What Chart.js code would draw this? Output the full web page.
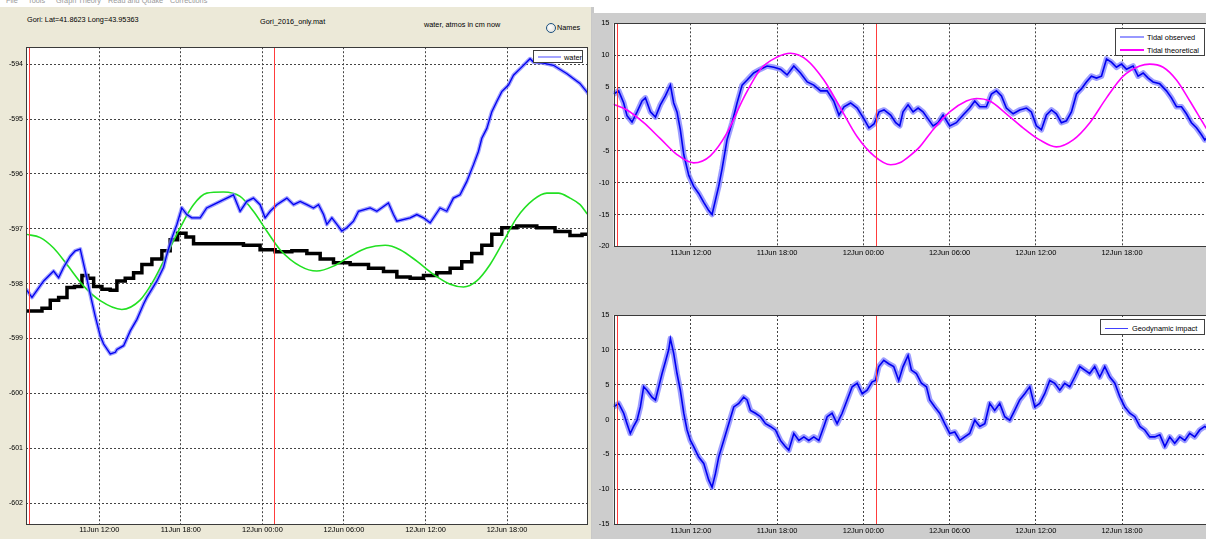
<!DOCTYPE html>
<html>
<head>
<meta charset="utf-8">
<title>Gori water level and tides</title>
<script src="https://cdn.jsdelivr.net/npm/chart.js@4.4.1/dist/chart.umd.min.js"></script>
<style>
  html, body { margin: 0; padding: 0; width: 1206px; height: 539px; overflow: hidden; background: #fff;
    font-family: 'Liberation Sans', Arial, sans-serif; }
  .abs { position: absolute; }
  #menuBar { left: 0; top: 0; width: 592px; height: 7px; background: #fff; overflow: hidden; }
  #menuBar span { position: absolute; top: -4px; font-size: 7.3px; color: #999; white-space: nowrap; }
  #leftPane { left: 0; top: 7px; width: 592px; height: 532px; background: #ECE9D8; }
  #scrollStrip { left: 591px; top: 7px; width: 3px; height: 532px; background: #C8C8C8; }
  #rightPane { left: 592px; top: 13px; width: 614px; height: 526px; background: #CDCDCD; }
  .hdr { position: absolute; font-size: 7.3px; color: #000; white-space: nowrap; line-height: 1; }
  .radio { position: absolute; width: 8px; height: 8px; border-radius: 50%; border: 1px solid #1c5180;
    background: radial-gradient(circle at 40% 40%, #fff 0, #e6e6e0 70%, #cfcfc8 100%); }
  canvas { position: absolute; }
  .legend { position: absolute; background: #fff; border: 1px solid #404040; box-sizing: border-box; }
  .legend .swatch { position: absolute; height: 0; }
  .legend .txt { position: absolute; font-size: 7.4px; color: #000; white-space: nowrap; line-height: 1; }
</style>
</head>
<body>
<div id="menuBar" class="abs">
  <span style="left:6px">File</span><span style="left:28px">Tools</span><span style="left:56px">Graph Theory</span>
  <span style="left:108px">Read and Quake</span><span style="left:170px">Corrections</span>
</div>
<div id="leftPane" class="abs"></div>
<div id="scrollStrip" class="abs"></div>
<div id="rightPane" class="abs"></div>

<div class="hdr" style="left:27px;top:16px">Gori: Lat=41.8623 Long=43.95363</div>
<div class="hdr" style="left:260px;top:17.5px">Gori_2016_only.mat</div>
<div class="hdr" style="left:424px;top:21px">water, atmos in cm now</div>
<div class="radio" style="left:546px;top:22.5px"></div>
<div class="hdr" style="left:557px;top:23.5px">Names</div>

<canvas id="waterChart" width="592" height="499" style="left:0;top:40px"></canvas>
<canvas id="tidalChart" width="620" height="250" style="left:592px;top:13px"></canvas>
<canvas id="geoChart" width="620" height="239" style="left:592px;top:300px"></canvas>

<div class="legend" style="left:533px;top:50px;width:50px;height:13px">
  <div class="swatch" style="left:4px;top:5px;width:23px;border-top:2px solid #a4a4ff"></div>
  <div class="txt" style="left:30px;top:3px">water</div>
</div>
<div class="legend" style="left:1115px;top:28px;width:90px;height:28px">
  <div class="swatch" style="left:4px;top:7px;width:24px;border-top:2px solid #9898ff"></div>
  <div class="txt" style="left:31px;top:4.5px">Tidal observed</div>
  <div class="swatch" style="left:4px;top:20px;width:24px;border-top:2px solid #ff00ff"></div>
  <div class="txt" style="left:31px;top:17.5px">Tidal theoretical</div>
</div>
<div class="legend" style="left:1100px;top:319px;width:105px;height:16px">
  <div class="swatch" style="left:4px;top:7.5px;width:23px;border-top:1px solid #4040ff"></div>
  <div class="txt" style="left:31px;top:4.5px">Geodynamic impact</div>
</div>

<script>
// Time axis: hours counted from 11 Jun 00:00.
const timeTickHours  = [12, 18, 24, 30, 36, 42];
const timeTickLabels = ['11Jun 12:00', '11Jun 18:00', '12Jun 00:00', '12Jun 06:00', '12Jun 12:00', '12Jun 18:00'];
const markerHours = [6.86, 24.87];           // red reference lines
const timeMin = 6.61, timeMax = 47.9;

// ---- water level panel (cm) ----
const waterTicks = [-602, -601, -600, -599, -598, -597, -596, -595, -594];
const waterHours = [
  6.61, 7.05, 7.91, 8.64, 9.01, 9.38, 9.87, 10.23, 10.6, 10.97,
  11.34, 11.71, 12.07, 12.32, 12.81, 13.18, 13.3, 13.79, 14.28, 14.77,
  15.26, 15.5, 16.24, 16.73, 16.97, 17.34, 17.71, 18.07, 18.44, 18.81,
  19.42, 19.9, 20.4, 20.89, 21.87, 22.36, 22.85, 23.34, 23.83, 24.2,
  24.57, 25.06, 25.8, 26.29, 26.78, 27.27, 27.76, 28.13, 28.5, 28.74,
  29.11, 29.48, 29.84, 30.21, 30.7, 31.07, 31.93, 32.42, 33.27, 33.64,
  33.89, 34.87, 35.36, 35.85, 36.34, 37.07, 37.56, 38.05, 38.54, 39.03,
  39.53, 39.89, 40.14, 40.51, 40.87, 41.24, 41.61, 42.1, 42.47, 42.96,
  43.69, 43.94, 44.67, 45.41, 46.38, 46.87, 47.36, 47.85, 48.0];
const waterLevel = [
  -598.10, -598.25, -597.95, -597.77, -597.89, -597.70, -597.50, -597.40, -597.37, -597.77,
  -598.20, -598.60, -598.95, -599.10, -599.28, -599.25, -599.20, -599.13, -598.86, -598.65,
  -598.37, -598.25, -597.95, -597.70, -597.47, -597.17, -596.92, -596.62, -596.74, -596.80,
  -596.80, -596.62, -596.56, -596.50, -596.38, -596.68, -596.50, -596.44, -596.56, -596.80,
  -596.68, -596.56, -596.44, -596.56, -596.50, -596.56, -596.62, -596.56, -596.74, -596.92,
  -596.80, -596.92, -597.04, -596.98, -596.86, -596.68, -596.62, -596.68, -596.53, -596.74,
  -596.86, -596.80, -596.74, -596.80, -596.89, -596.62, -596.68, -596.44, -596.38, -596.14,
  -595.83, -595.59, -595.35, -595.17, -594.87, -594.68, -594.50, -594.38, -594.20, -594.08,
  -593.90, -593.96, -593.98, -594.02, -594.17, -594.26, -594.35, -594.50, -594.55];

const atmosHours = [
  6.6, 7.42, 8.15, 8.64, 9.38, 9.87, 10.48, 10.97, 11.34, 11.83,
  12.56, 13.05, 13.54, 14.28, 14.77, 15.5, 16.24, 16.97, 17.46, 18.07,
  18.69, 19.18, 20.4, 21.87, 23.34, 24.32, 25.55, 26.78, 27.76, 28.74,
  29.72, 31.19, 32.42, 33.4, 34.38, 35.36, 36.34, 37.32, 38.3, 39.03,
  39.77, 40.51, 41.24, 41.98, 43.45, 44.92, 46.13, 47.12, 47.9];
const atmosLevel = [
  -598.50, -598.50, -598.45, -598.30, -598.25, -598.07, -598.05, -597.85, -597.90, -598.05,
  -598.10, -598.12, -597.95, -597.90, -597.80, -597.65, -597.55, -597.40, -597.20, -597.08,
  -597.15, -597.27, -597.27, -597.27, -597.30, -597.38, -597.42, -597.40, -597.45, -597.55,
  -597.62, -597.65, -597.72, -597.78, -597.88, -597.90, -597.85, -597.80, -597.72, -597.60,
  -597.45, -597.30, -597.10, -596.98, -596.95, -596.98, -597.05, -597.12, -597.10];

const tideCurveHours = [
  6.61, 7.66, 8.64, 9.62, 10.84, 12.07, 13.66, 15.0, 15.98, 16.97,
  17.95, 18.93, 19.91, 21.13, 22.36, 23.34, 24.32, 25.3, 26.78, 28.0,
  29.23, 30.46, 31.68, 33.03, 34.13, 35.36, 36.58, 37.81, 38.79, 39.77,
  40.75, 41.73, 42.71, 43.94, 44.92, 45.77, 46.63, 47.37, 47.9];
const tideCurveLevel = [
  -597.10, -597.16, -597.35, -597.65, -598.04, -598.31, -598.47, -598.30, -597.95, -597.47,
  -596.98, -596.56, -596.35, -596.33, -596.41, -596.68, -597.04, -597.38, -597.68, -597.77,
  -597.68, -597.50, -597.35, -597.30, -597.38, -597.59, -597.83, -598.01, -598.06, -597.95,
  -597.65, -597.23, -596.80, -596.47, -596.35, -596.35, -596.44, -596.56, -596.73];

// ---- tidal panel ----
const tidalTicks = [-20, -15, -10, -5, 0, 5, 10, 15];
const observedHours = [
  6.62, 6.97, 7.32, 7.55, 7.90, 8.25, 8.60, 8.83, 9.18, 9.53,
  9.87, 10.22, 10.57, 10.80, 11.03, 11.26, 11.50, 11.85, 12.19, 12.54,
  12.89, 13.24, 13.47, 13.70, 13.93, 14.17, 14.51, 14.86, 15.21, 15.56,
  15.91, 16.37, 16.84, 17.30, 17.77, 18.23, 18.69, 19.16, 19.62, 20.09,
  20.55, 21.02, 21.48, 21.94, 22.30, 22.65, 23.11, 23.57, 24.04, 24.39,
  24.74, 25.09, 25.44, 25.90, 26.25, 26.53, 26.76, 27.11, 27.46, 27.81,
  28.15, 28.50, 28.85, 29.20, 29.55, 30.01, 30.47, 30.94, 31.40, 31.75,
  32.10, 32.56, 32.91, 33.26, 33.61, 33.95, 34.42, 34.88, 35.35, 35.69,
  36.04, 36.39, 36.74, 37.09, 37.43, 37.78, 38.13, 38.48, 38.83, 39.17,
  39.52, 39.87, 40.22, 40.57, 40.92, 41.26, 41.61, 41.96, 42.31, 42.77,
  43.12, 43.47, 43.82, 44.16, 44.63, 45.09, 45.44, 45.79, 46.14, 46.48,
  46.83, 47.18, 47.53, 47.76, 47.9];
const observedTide = [
  3.9, 4.4, 2.5, 0.5, -0.5, 1.1, 2.8, 3.3, 1.1, 0.3,
  2.2, 3.6, 5.3, 2.5, 1.1, -1.7, -5.6, -8.9, -10.6, -11.7,
  -13.1, -14.4, -15.0, -12.8, -10.6, -7.8, -3.3, -0.6, 2.5, 5.3,
  6.1, 7.2, 7.8, 8.3, 8.1, 7.8, 6.9, 8.3, 7.2, 5.8,
  5.3, 4.4, 4.4, 2.8, 0.6, 1.9, 2.5, 1.7, 0.0, -1.4,
  -0.8, 1.1, 1.4, 0.6, -0.6, -1.1, 1.1, 2.2, 1.1, 1.7,
  1.1, 0.0, -1.1, -0.6, 0.6, -1.1, -0.6, 0.6, 1.7, 2.8,
  1.9, 1.9, 3.9, 4.4, 3.6, 1.7, 0.8, 1.4, 1.7, 1.1,
  -1.1, -1.7, 0.6, 1.4, 0.8, -0.6, -0.3, 1.1, 3.9, 4.7,
  5.8, 6.7, 6.4, 6.7, 9.4, 8.9, 8.1, 8.6, 7.8, 8.3,
  6.7, 7.2, 6.4, 5.8, 5.5, 4.4, 3.3, 1.9, 1.9, 0.8,
  -0.6, -1.4, -2.5, -3.3, -3.0];

const theoreticalHours = [
  6.6, 7.55, 8.71, 9.87, 11.03, 12.19, 13.35, 14.51, 15.67, 16.84,
  18.0, 18.92, 20.09, 21.25, 22.41, 23.57, 24.74, 25.9, 26.53, 27.23,
  27.92, 28.85, 30.01, 31.17, 31.87, 32.79, 33.95, 35.11, 36.27, 37.43,
  38.6, 39.76, 40.92, 42.08, 43.23, 43.93, 44.86, 45.79, 46.72, 47.76, 47.9];
const theoreticalTide = [
  2.3, 1.4, -0.6, -3.1, -5.6, -6.9, -5.8, -2.2, 3.3, 7.8,
  9.7, 10.3, 9.2, 6.1, 1.7, -2.8, -5.8, -7.2, -6.9, -5.8,
  -4.4, -1.7, 1.1, 2.8, 3.2, 2.8, 0.8, -1.4, -3.3, -4.4,
  -3.3, -0.6, 3.3, 6.7, 8.3, 8.6, 8.1, 6.1, 2.8, -1.1, -1.6];

// ---- geodynamic panel ----
const geoTicks = [-15, -10, -5, 0, 5, 10, 15];
const geoHours = [
  6.62, 6.97, 7.32, 7.55, 7.78, 8.01, 8.25, 8.48, 8.71, 8.94,
  9.29, 9.53, 9.76, 9.99, 10.22, 10.45, 10.57, 10.80, 11.03, 11.26,
  11.50, 11.73, 11.96, 12.19, 12.54, 12.89, 13.24, 13.47, 13.70, 13.93,
  14.28, 14.63, 14.98, 15.33, 15.67, 15.91, 16.14, 16.49, 16.84, 17.19,
  17.53, 17.88, 18.23, 18.58, 18.81, 19.16, 19.51, 19.86, 20.20, 20.55,
  20.90, 21.25, 21.48, 21.82, 22.17, 22.52, 22.87, 23.22, 23.57, 23.92,
  24.26, 24.61, 24.84, 25.07, 25.42, 25.76, 26.11, 26.46, 26.76, 27.11,
  27.34, 27.69, 28.04, 28.39, 28.62, 28.97, 29.31, 29.66, 30.01, 30.36,
  30.71, 31.05, 31.40, 31.75, 32.10, 32.45, 32.79, 33.14, 33.49, 33.84,
  34.19, 34.53, 34.88, 35.23, 35.58, 35.93, 36.27, 36.62, 36.97, 37.32,
  37.67, 38.01, 38.36, 38.71, 39.06, 39.41, 39.75, 40.10, 40.45, 40.80,
  41.15, 41.50, 41.84, 42.19, 42.54, 42.89, 43.24, 43.58, 43.93, 44.28,
  44.63, 44.98, 45.32, 45.67, 46.02, 46.37, 46.71, 47.06, 47.41, 47.76, 47.9];
const geoImpact = [
  1.8, 2.3, 0.9, -0.6, -2.0, -1.0, -0.1, 1.8, 4.7, 4.2,
  3.2, 2.8, 4.7, 6.6, 8.3, 10.0, 11.6, 9.5, 6.6, 4.2,
  0.9, -1.5, -3.0, -3.9, -5.4, -6.3, -8.7, -9.7, -7.8, -5.4,
  -3.0, -0.6, 1.8, 2.3, 3.2, 2.8, 1.3, 0.9, 0.4, -0.6,
  -1.0, -1.5, -3.0, -3.9, -4.4, -2.0, -3.0, -2.5, -3.0, -2.5,
  -3.0, -1.0, 0.4, 0.9, -0.6, 0.9, 2.8, 4.7, 5.2, 3.7,
  4.2, 5.4, 5.6, 7.6, 8.5, 8.0, 7.6, 5.6, 7.6, 9.2,
  7.1, 6.6, 5.2, 4.7, 2.8, 1.8, 0.9, -0.6, -2.0, -1.8,
  -3.0, -2.5, -2.0, -0.1, -1.0, -0.6, 2.3, 1.3, 2.3, 0.4,
  -0.1, 1.3, 2.8, 3.7, 4.7, 1.8, 2.3, 3.7, 5.6, 5.2,
  4.2, 5.2, 4.7, 6.1, 7.6, 7.1, 6.6, 7.6, 6.1, 7.6,
  6.1, 5.2, 3.3, 1.8, 0.9, 0.4, -1.0, -1.5, -2.5, -2.5,
  -2.2, -3.9, -2.5, -3.4, -2.5, -3.0, -2.0, -2.5, -1.5, -1.0, -1.2];

// ---------------------------------------------------------------
const FONT = "'Liberation Sans', Arial, sans-serif";
Chart.defaults.font.family = FONT;
Chart.defaults.color = '#000';

const pairs = (xs, ys) => xs.map((x, i) => ({ x, y: ys[i] }));

// dark core over a pale halo, for the densely sampled traces
// (the first dataset in Chart.js's list is painted last, i.e. on top)
const noisyTrace = (data, core, halo, width, haloExtra) => [
  { data, borderColor: core, borderWidth: width, pointRadius: 0, tension: 0, borderJoinStyle: 'miter' },
  { data, borderColor: halo, borderWidth: width + haloExtra, pointRadius: 0, tension: 0, borderJoinStyle: 'round' }
];

// white plot face
const plotFace = {
  id: 'plotFace',
  beforeDraw(chart) {
    const { ctx, chartArea: a } = chart;
    ctx.save();
    ctx.fillStyle = '#fff';
    ctx.fillRect(a.left, a.top, a.right - a.left, a.bottom - a.top);
    ctx.restore();
  }
};

// frame around the plot area plus the red reference lines
const frameAndMarkers = {
  id: 'frameAndMarkers',
  afterDatasetsDraw(chart) {
    const { ctx, chartArea: a, scales: { x } } = chart;
    ctx.save();
    ctx.beginPath();
    ctx.rect(a.left, a.top, a.right - a.left, a.bottom - a.top);
    ctx.clip();
    ctx.strokeStyle = '#ff3c3c';
    ctx.lineWidth = 1;
    markerHours.forEach(h => {
      const px = Math.round(x.getPixelForValue(h)) + 0.5;
      ctx.beginPath(); ctx.moveTo(px, a.top); ctx.lineTo(px, a.bottom); ctx.stroke();
    });
    ctx.restore();
    ctx.save();
    ctx.strokeStyle = '#3a3a3a';
    ctx.lineWidth = 1;
    ctx.strokeRect(Math.round(a.left) + 0.5, Math.round(a.top) + 0.5,
                   Math.round(a.right - a.left), Math.round(a.bottom - a.top));
    ctx.restore();
  }
};

function makeChart(id, datasets, frame, yRange, yTicks, fonts) {
  const cv = document.getElementById(id);
  return new Chart(cv, {
    type: 'line',
    data: { datasets },
    plugins: [plotFace, frameAndMarkers],
    options: {
      responsive: false,
      animation: false,
      events: [],
      layout: { padding: { top: frame.top, right: frame.right, left: 0, bottom: 0 } },
      plugins: { legend: { display: false }, tooltip: { enabled: false } },
      scales: {
        x: {
          type: 'linear', min: timeMin, max: timeMax,
          afterFit: s => { s.height = frame.bottom; },
          afterBuildTicks: s => { s.ticks = timeTickHours.map(v => ({ value: v })); },
          ticks: {
            autoSkip: false, maxRotation: 0, padding: fonts.xPad,
            font: { size: fonts.x }, color: '#000',
            callback: v => timeTickLabels[timeTickHours.indexOf(v)]
          },
          grid: { color: '#444', lineWidth: 1, drawTicks: false },
          border: { display: false, dash: [2, 2] }
        },
        y: {
          type: 'linear', min: yRange[0], max: yRange[1],
          afterFit: s => { s.width = frame.left; },
          afterBuildTicks: s => { s.ticks = yTicks.map(v => ({ value: v })); },
          ticks: { padding: fonts.yPad, font: { size: fonts.y }, color: '#000' },
          grid: { color: '#444', lineWidth: 1, drawTicks: false },
          border: { display: false, dash: [2, 2] }
        }
      }
    }
  });
}

const CORE = '#0000f0', HALO = 'rgba(125,125,255,0.75)';

// water (top), theoretical curve, atmospheric (bottom)
makeChart('waterChart', [
  ...noisyTrace(pairs(waterHours, waterLevel), CORE, HALO, 1.3, 2.6),
  { data: pairs(tideCurveHours, tideCurveLevel), borderColor: '#22e022', borderWidth: 1.6,
    pointRadius: 0, cubicInterpolationMode: 'monotone' },
  { data: pairs(atmosHours, atmosLevel), borderColor: '#000', borderWidth: 3.5,
    pointRadius: 0, stepped: 'middle' }
], { left: 26, top: 5, right: 4.7, bottom: 15 }, [-602.38, -593.69], waterTicks,
   { x: 7.4, y: 7, xPad: 2, yPad: 3 });

// tidal theoretical (top) over observed
makeChart('tidalChart', [
  { data: pairs(theoreticalHours, theoreticalTide), borderColor: '#ff00ff', borderWidth: 1.6,
    pointRadius: 0, cubicInterpolationMode: 'monotone' },
  ...noisyTrace(pairs(observedHours, observedTide), CORE, HALO, 1.6, 4)
], { left: 21.5, top: 10.3, right: 5.2, bottom: 16.7 }, [-20, 15], tidalTicks,
   { x: 7.5, y: 7.5, xPad: 2.5, yPad: 4 });

// geodynamic impact
makeChart('geoChart',
  noisyTrace(pairs(geoHours, geoImpact), CORE, HALO, 1.6, 4),
  { left: 21.5, top: 15, right: 5.2, bottom: 15 }, [-15, 15], geoTicks,
  { x: 7.5, y: 7.5, xPad: 2.5, yPad: 4 });
</script>
</body>
</html>
